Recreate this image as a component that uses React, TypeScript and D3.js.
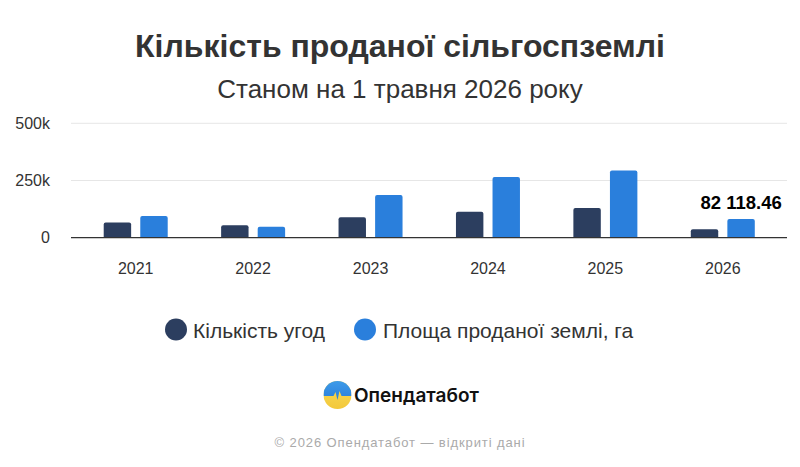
import React from 'react';
import * as d3 from 'd3';

const years = ['2021', '2022', '2023', '2024', '2025', '2026'];
const deals = [66000, 54000, 89000, 113000, 130000, 37000];
const area = [95000, 48000, 187000, 265000, 294000, 82118.46];
const yTicks = [0, 250000, 500000];
const tickLabels = ['0', '250k', '500k'];
const seriesNames = ['Кількість угод', 'Площа проданої землі, га'];
const colors = ['#2c3e5f', '#2a7fdc'];
const title = 'Кількість проданої сільгоспземлі';
const subtitle = 'Станом на 1 травня 2026 року';
const brand = 'Опендатабот';
const footer = '© 2026 Опендатабот — відкриті дані';

const W = 800;
const H = 467;
const FONT = '"Liberation Sans", Arial, sans-serif';

function topRounded(x: number, y: number, w: number, h: number, r: number) {
  const rr = Math.min(r, h, w / 2);
  const p = d3.path();
  p.moveTo(x, y + h);
  p.lineTo(x, y + rr);
  p.quadraticCurveTo(x, y, x + rr, y);
  p.lineTo(x + w - rr, y);
  p.quadraticCurveTo(x + w, y, x + w, y + rr);
  p.lineTo(x + w, y + h);
  p.closePath();
  return p.toString();
}

export default function App() {
  const x = d3.scaleBand<string>().domain(years).range([77, 781.5]).paddingInner(0).paddingOuter(0);
  const bw = x.bandwidth();
  const inner = d3
    .scaleBand<string>()
    .domain(['0', '1'])
    .range([bw / 2 - 32, bw / 2 + 32])
    .paddingInner(0.25);
  const y = d3.scaleLinear().domain([0, 500000]).range([237.7, 123.3]);
  const series = [deals, area];
  const loc = d3.formatLocale({ decimal: '.', thousands: ' ', grouping: [3], currency: ['', ''] });
  const fmt = loc.format(',.2f');
  const lastIdx = years.length - 1;
  const lastX = (x(years[lastIdx]) as number) + (inner('1') as number) + inner.bandwidth() / 2;

  const lcx = 337.5;
  const lcy = 395;
  const lr = 14;

  return (
    <div style={{ position: 'absolute', left: 0, top: 0 }}>
      <svg width={W} height={H} viewBox={`0 0 ${W} ${H}`} style={{ display: 'block', background: '#fff' }}>
        <defs>
          <linearGradient id="lgBlue" x1="0" y1="0" x2="0" y2="1">
            <stop offset="0" stopColor="#3d9be9" />
            <stop offset="1" stopColor="#2a7fdc" />
          </linearGradient>
          <linearGradient id="lgYellow" x1="0" y1="0" x2="0" y2="1">
            <stop offset="0" stopColor="#f7dc5a" />
            <stop offset="1" stopColor="#f3c83a" />
          </linearGradient>
          <clipPath id="logoClip">
            <circle cx={lcx} cy={lcy} r={lr} />
          </clipPath>
        </defs>
        <rect x={0} y={0} width={W} height={H} fill="#fff" />
        <text x={400} y={57} textAnchor="middle" fontFamily={FONT} fontWeight="bold" fontSize={32} fill="#333">
          {title}
        </text>
        <text x={400} y={97.5} textAnchor="middle" fontFamily={FONT} fontSize={26} fill="#333">
          {subtitle}
        </text>

        {yTicks.map((t, i) => (
          <g key={t}>
            {t !== 0 && <line x1={71} x2={787} y1={y(t)} y2={y(t)} stroke="#e6e6e6" strokeWidth={1} />}
            <text x={50} y={y(t)} dy="0.35em" textAnchor="end" fontFamily={FONT} fontSize={16} fill="#333">
              {tickLabels[i]}
            </text>
          </g>
        ))}

        {years.map((yr, i) => (
          <g key={yr} transform={`translate(${x(yr)},0)`}>
            {series.map((s, k) => {
              const v = s[i];
              const top = y(v);
              return (
                <path
                  key={k}
                  d={topRounded(inner(String(k)) as number, top, inner.bandwidth(), y(0) - top, 2)}
                  fill={colors[k]}
                />
              );
            })}
            <text x={bw / 2} y={273.5} textAnchor="middle" fontFamily={FONT} fontSize={16} fill="#333">
              {yr}
            </text>
          </g>
        ))}
        <line x1={71} x2={787} y1={y(0)} y2={y(0)} stroke="#333" strokeWidth={1.3} />

        <text x={lastX} y={y(area[lastIdx]) - 10} textAnchor="middle" fontFamily={FONT} fontWeight="bold" fontSize={18.5} fill="#000">
          {fmt(area[lastIdx])}
        </text>

        <g fontFamily={FONT} fontSize={21} fill="#333">
          <circle cx={176} cy={329.5} r={11} fill={colors[0]} />
          <text x={193} y={337.5}>{seriesNames[0]}</text>
          <circle cx={365} cy={329.5} r={11} fill={colors[1]} />
          <text x={383} y={337.5}>{seriesNames[1]}</text>
        </g>

        <g clipPath="url(#logoClip)">
          <rect x={lcx - lr} y={lcy - lr} width={lr * 2} height={lr * 2} fill="url(#lgYellow)" />
          <path
            d={`M${lcx - lr},${lcy - lr} L${lcx + lr},${lcy - lr} L${lcx + lr},${lcy + 1} L${lcx + 4},${lcy + 1} L${lcx + 2},${lcy - 4} L${lcx},${lcy + 5} L${lcx - 2},${lcy - 3} L${lcx - 4},${lcy + 1} L${lcx - lr},${lcy + 1} Z`}
            fill="url(#lgBlue)"
          />
        </g>
        <text x={354} y={402} fontFamily="Inter, Roboto, sans-serif" fontWeight="600" fontSize={19} fill="#111">
          {brand}
        </text>

        <text x={400} y={447} textAnchor="middle" fontFamily={FONT} fontSize={13} letterSpacing={0.9} fill="#aaa">
          {footer}
        </text>
      </svg>
    </div>
  );
}
